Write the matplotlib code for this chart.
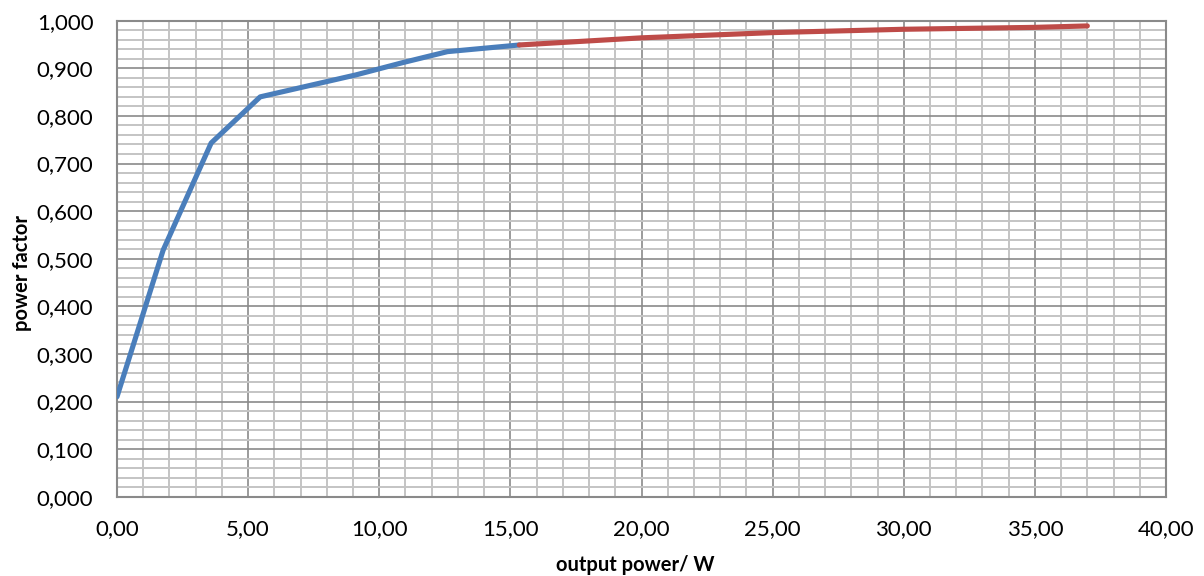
import matplotlib
matplotlib.use('Agg')
import matplotlib.pyplot as plt
from matplotlib.ticker import MultipleLocator, FuncFormatter

# measured data, low power range (blue) and high power range (red)
p_low = [0.0, 1.76, 3.59, 5.46, 7.2, 9.1, 10.9, 12.6, 15.34]
pf_low = [0.210, 0.518, 0.743, 0.840, 0.862, 0.886, 0.912, 0.935, 0.949]
p_high = [15.34, 20.0, 25.0, 30.0, 35.0, 37.0]
pf_high = [0.949, 0.964, 0.975, 0.982, 0.986, 0.989]

plt.rcParams['font.family'] = ['Lato', 'DejaVu Sans']

fig = plt.figure(figsize=[12.04, 5.76], dpi=100)
ax = fig.add_axes([117/1204, 1 - 496.7/576, 1049/1204, 476/576])

ax.plot(p_low, pf_low, color="#4a7ebb", lw=3.7, solid_capstyle='round', zorder=3)
ax.plot(p_high, pf_high, color="#be4b48", lw=3.7, solid_capstyle='round', zorder=3)

ax.set_xlim(0, 40)
ax.set_ylim(0, 1)
ax.xaxis.set_major_locator(MultipleLocator(5))
ax.xaxis.set_minor_locator(MultipleLocator(1))
ax.yaxis.set_major_locator(MultipleLocator(0.1))
ax.yaxis.set_minor_locator(MultipleLocator(0.02))
ax.xaxis.set_major_formatter(FuncFormatter(lambda v, p: ("%.2f" % v).replace('.', ',')))
ax.yaxis.set_major_formatter(FuncFormatter(lambda v, p: ("%.3f" % v).replace('.', ',')))

ax.grid(which='minor', color='#c4c4c4', lw=1.4)
ax.grid(which='major', color='#8a8a8a', lw=1.2)
ax.set_axisbelow(True)
for s in ax.spines.values():
    s.set_color('#8a8a8a')
    s.set_linewidth(1.5)

ax.tick_params(which='both', length=0, labelsize=16, colors='black')
ax.tick_params(axis='x', pad=16)
ax.tick_params(axis='y', pad=17)

ax.set_xlabel("output power/ W", fontsize=14.5, fontweight='bold', va='center')
ax.set_ylabel("power factor", fontsize=14.5, fontweight='bold', va='center')
ax.xaxis.set_label_coords(0.494, -0.143)
ax.yaxis.set_label_coords(-0.091, 0.47)

plt.savefig("out.png", dpi=100)
